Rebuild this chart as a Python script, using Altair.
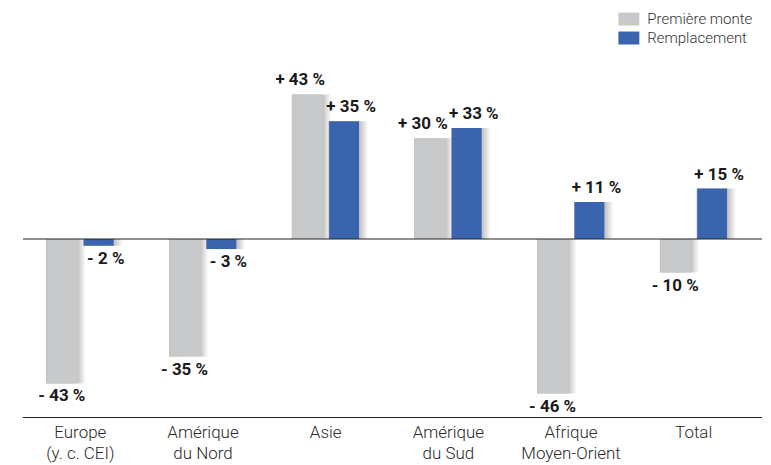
import altair as alt
import pandas as pd

regions = ["Europe\n(y. c. CEI)", "Amérique\ndu Nord", "Asie", "Amérique\ndu Sud",
           "Afrique\nMoyen-Orient", "Total"]
series = ["Première monte", "Remplacement"]
premiere = [-43, -35, 43, 30, -46, -10]
remplacement = [-2, -3, 35, 33, 11, 15]
colors = ["#C8C9CA", "#3B64AE"]

rows = []
for r, a, b in zip(regions, premiere, remplacement):
    rows.append({"region": r, "serie": series[0], "value": a})
    rows.append({"region": r, "serie": series[1], "value": b})
df = pd.DataFrame(rows)
df["label"] = df["value"].apply(lambda v: ("+ " if v > 0 else "- ") + f"{abs(v)} %")

W, H = 741, 410
FONT = "Roboto"

x = alt.X("region:N", sort=regions,
          scale=alt.Scale(range=[-4, 734], paddingInner=0, paddingOuter=0),
          axis=alt.Axis(title=None, domain=False, ticks=False, labelAngle=0,
                        labelExpr="split(datum.label, '\\n')",
                        labelFontSize=17, labelFont=FONT, labelColor="#2a2a2a",
                        labelFontWeight=300,
                        labelPadding=7, labelLineHeight=21))
xoff = alt.XOffset("serie:N", sort=series,
                   scale=alt.Scale(paddingInner=0.19, paddingOuter=0.757))
yscale = alt.Scale(domain=[-53.12, 68.55], nice=False, zero=False)
y = alt.Y("value:Q", scale=yscale, axis=None)

base = alt.Chart(df)

shadow_grad = alt.Gradient(
    gradient="linear", x1=0, x2=1, y1=0, y2=0,
    stops=[alt.GradientStop(color="rgba(0,0,0,0)", offset=0),
           alt.GradientStop(color="rgba(0,0,0,0)", offset=0.17),
           alt.GradientStop(color="rgba(0,0,0,0.28)", offset=0.18),
           alt.GradientStop(color="rgba(0,0,0,0.22)", offset=0.84),
           alt.GradientStop(color="rgba(0,0,0,0)", offset=1)])

shadow = base.mark_bar(width=48, color=shadow_grad).encode(
    x=x, xOffset=xoff, y=y, y2=alt.datum(0))

bars = base.mark_bar().encode(
    x=x, xOffset=xoff, y=y, y2=alt.datum(0),
    color=alt.Color("serie:N", sort=series,
                    scale=alt.Scale(domain=series, range=colors),
                    legend=alt.Legend(title=None, orient="none", legendX=597, legendY=0,
                                      symbolType="M-1,-0.62H1V0.62H-1Z", symbolSize=441,
                                      symbolStrokeWidth=0, symbolOpacity=1,
                                      labelFont=FONT, labelFontSize=15, labelColor="#333333",
                                      labelFontWeight=300,
                                      labelOffset=8, rowPadding=0, padding=0)),
)

txt = dict(fontSize=17, fontWeight="bold", font=FONT, color="#1a1a1a")

pos_a = base.transform_filter(f"datum.value > 0 && datum.serie == '{series[0]}'").mark_text(
    baseline="bottom", dy=-5, dx=-7, **txt
).encode(x=x, xOffset=xoff, y=y, text="label:N")
pos_b = base.transform_filter(f"datum.value > 0 && datum.serie == '{series[1]}'").mark_text(
    baseline="bottom", dy=-5, dx=7, **txt
).encode(x=x, xOffset=xoff, y=y, text="label:N")
neg_a = base.transform_filter(f"datum.value < 0 && datum.serie == '{series[0]}'").mark_text(
    baseline="top", dy=5, **txt
).encode(x=x, xOffset=xoff, y=y, text="label:N")
neg_b = base.transform_filter(f"datum.value < 0 && datum.serie == '{series[1]}'").mark_text(
    baseline="top", dy=5, dx=7, **txt
).encode(x=x, xOffset=xoff, y=y, text="label:N")

zero = alt.Chart(pd.DataFrame({"v": [0]})).mark_rule(color="#222222", strokeWidth=1.2).encode(
    y=alt.Y("v:Q", scale=yscale, axis=None), x=alt.value(0), x2=alt.value(W))
bottom = alt.Chart(pd.DataFrame({"v": [0]})).mark_rule(color="#222222", strokeWidth=1.2).encode(
    y=alt.value(H), x=alt.value(0), x2=alt.value(W))

chart = alt.layer(shadow, bars, zero, bottom, pos_a, pos_b, neg_a, neg_b).properties(
    width=W, height=H,
    padding={"left": 14, "top": 0, "right": 0, "bottom": 2},
).configure_view(stroke=None)

chart.save("out.html", embed_options={"renderer": "svg", "actions": False})
